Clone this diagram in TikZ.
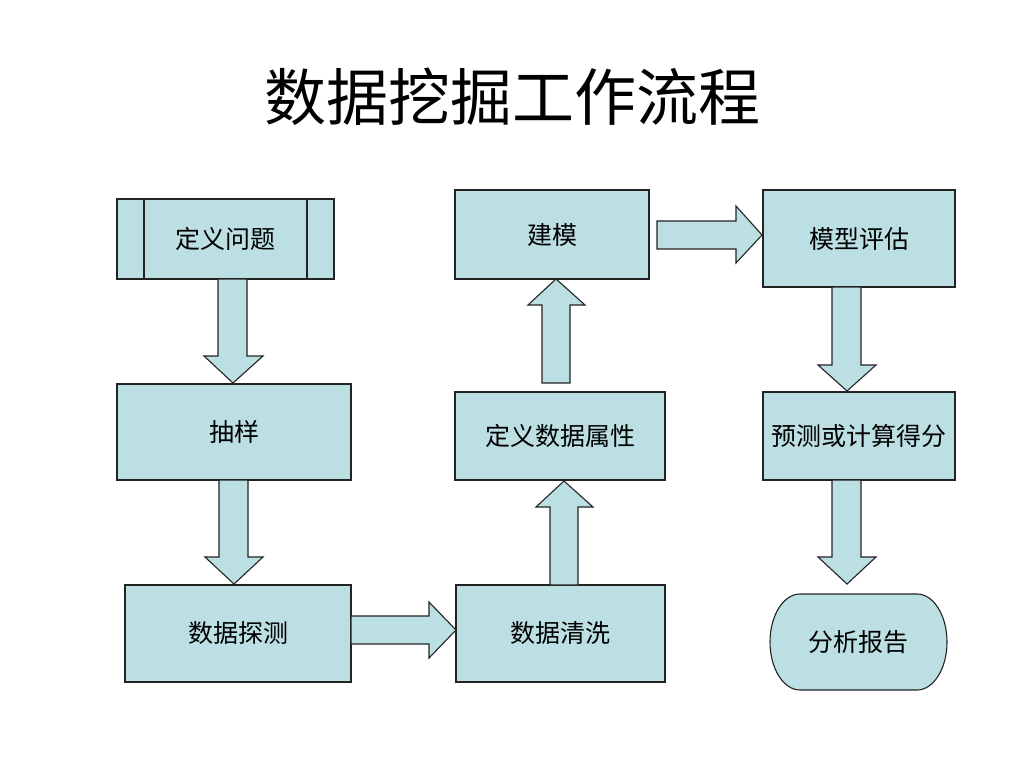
\documentclass[tikz,border=0pt]{standalone}
\usepackage{fontspec}
\newfontfamily\cjk{Noto Sans CJK SC}
\definecolor{boxfill}{RGB}{187,223,227}
\definecolor{boxline}{RGB}{35,35,35}
\begin{document}
\begin{tikzpicture}[x=1pt,y=-1pt,
  box/.style={draw=boxline,fill=boxfill,line width=1.1pt,inner sep=0pt,font=\cjk\fontsize{25}{29}\selectfont},
  barrow/.style={draw=boxline,fill=boxfill,line width=1.1pt,line join=miter}]
\useasboundingbox (0,0) rectangle (1024,768);
\fill[white] (0,0) rectangle (1024,768);
\node[font=\cjk\fontsize{62}{68}\selectfont] (title) at (512,97) {数据挖掘工作流程};
% nodes
\node[box,minimum width=217pt,minimum height=80pt] (q) at (225.5,239) {定义问题};
\draw[boxline,line width=1.1pt] (144,0 |- q.north) -- (144,0 |- q.south);
\draw[boxline,line width=1.1pt] (307,0 |- q.north) -- (307,0 |- q.south);
\node[box,minimum width=234pt,minimum height=96pt] (s) at (234,432) {抽样};
\node[box,minimum width=226pt,minimum height=97pt] (t) at (238,633.5) {数据探测};
\node[box,minimum width=209pt,minimum height=97pt] (c) at (560.5,633.5) {数据清洗};
\node[box,minimum width=210pt,minimum height=88pt] (a) at (560,436) {定义数据属性};
\node[box,minimum width=194pt,minimum height=89pt] (m) at (552,234.5) {建模};
\node[box,minimum width=192pt,minimum height=97pt] (e) at (859,238.5) {模型评估};
\node[box,minimum width=192pt,minimum height=88pt] (p) at (859,436) {预测或计算得分};
% terminal (stadium-like)
\draw[barrow] (800,594) -- (917,594) arc[start angle=-90,end angle=90,x radius=30,y radius=48]
  -- (800,690) arc[start angle=90,end angle=270,x radius=30,y radius=48] -- cycle;
\node[font=\cjk\fontsize{25}{29}\selectfont,inner sep=0pt] (r) at (858.5,642) {分析报告};
% block arrows
% q -> s
\draw[barrow] (218,279) -- (247,279) -- (247,356) -- (263,356) -- (233,383) -- (204,356) -- (218,356) -- cycle;
% s -> t
\draw[barrow] (219,480) -- (248,480) -- (248,557) -- (263,557) -- (234,584) -- (205,557) -- (219,557) -- cycle;
% t -> c
\draw[barrow] (351,616) -- (429,616) -- (429,602) -- (456,630) -- (429,658) -- (429,644) -- (351,644) -- cycle;
% c -> a
\draw[barrow] (550,585) -- (550,507) -- (536,507) -- (564,481) -- (593,507) -- (578,507) -- (578,585) -- cycle;
% a -> m
\draw[barrow] (542,383) -- (542,305) -- (528,305) -- (556,279) -- (585,305) -- (570,305) -- (570,383) -- cycle;
% m -> e
\draw[barrow] (657,221) -- (736,221) -- (736,206) -- (762,235) -- (736,263) -- (736,249) -- (657,249) -- cycle;
% e -> p
\draw[barrow] (832,287) -- (861,287) -- (861,365) -- (876,365) -- (847,391) -- (818,365) -- (832,365) -- cycle;
% p -> r
\draw[barrow] (832,480) -- (861,480) -- (861,557) -- (876,557) -- (847,584) -- (818,557) -- (832,557) -- cycle;
\end{tikzpicture}
\end{document}
